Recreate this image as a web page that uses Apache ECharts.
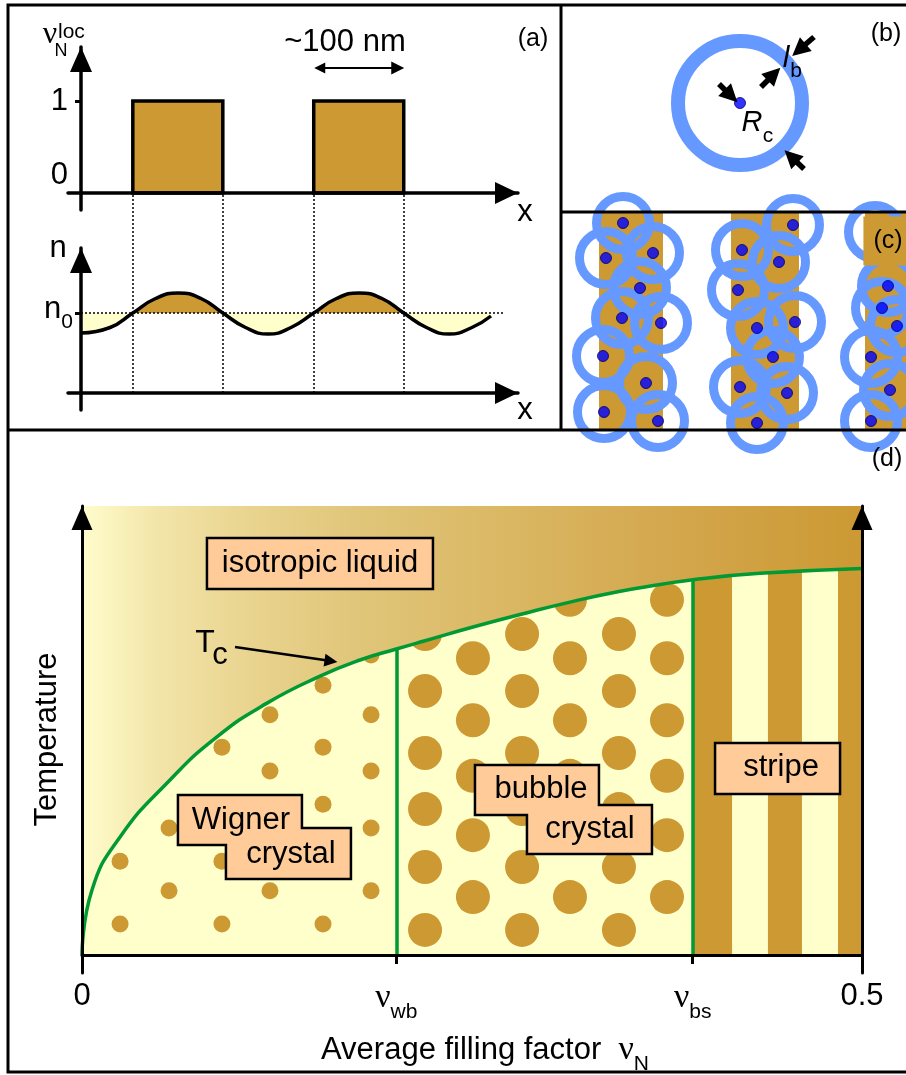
<!DOCTYPE html>
<html><head><meta charset="utf-8">
<script src="https://cdn.jsdelivr.net/npm/echarts@6/dist/echarts.min.js"></script>
<style>html,body{margin:0;padding:0;background:#fff}#c{width:906px;height:1075px}</style>
</head><body><div id="c"></div>
<script>
// ================= DATA =================
// (a) top: local filling factor nu_N^loc(x) = 1 inside these intervals (x in nm)
const locStripesA = [[57, 156], [256, 355]];
const locLevelA = 1;
// (a) bottom: density n(x)
const densityX = [0, 32, 57, 82, 107, 132, 156, 181, 206, 231, 256, 281, 306, 331, 355, 380, 405, 430, 451];
const densityN = [0.60, 0.655, 0.80, 0.945, 1.0, 0.945, 0.80, 0.655, 0.59, 0.655, 0.80, 0.945, 1.0, 0.945, 0.80, 0.655, 0.59, 0.655, 0.77];
const densityN0 = 0.8;
const periodArrowA = [262.6, 348.4];   // "~100 nm" double arrow (x, nm)
const periodArrowY = 1.36;
// (b) one bubble: centre and ring (arbitrary length units)
const bubbleCentreB = [178, 98];
const ringDiameterB = 124;
const arrowsB = [
  [[157, 79], [169, 91]],
  [[199, 82], [212, 69]],
  [[252, 32], [237, 45]],
  [[242, 164], [229, 151.5]]
];
// (c) stripes and bubble (guiding-centre) positions
const stripesC = [[38, 102], [170, 238], [304, 345]];
const centresC = [
  [62, 11], [92, 41], [45, 46], [79, 76], [61, 106], [100, 111], [42, 144], [85, 171], [43, 200], [97, 209],
  [232, 13], [181, 38], [218, 50], [177, 78], [234, 110], [196, 116], [212, 145], [179, 175], [226, 181], [196, 211],
  [314, 20], [327, 74], [321, 96], [336, 114], [310, 145], [329, 178], [310, 209]
];
// (d) phase diagram
const nuWB = 0.2015, nuBS = 0.3915;
const tcNu = [0, 0.0064, 0.0244, 0.0564, 0.0865, 0.1186, 0.1526, 0.1782, 0.2015, 0.2199, 0.2506, 0.2821, 0.3128, 0.3442, 0.3705, 0.3915, 0.4346, 0.5];
const tcT  = [0, 0.145, 0.263, 0.390, 0.486, 0.561, 0.621, 0.657, 0.6815, 0.700, 0.7305, 0.7595, 0.786, 0.8095, 0.825, 0.836, 0.850, 0.861];
const wignerDots = [
  [0.0244, 0.209], [0.0244, 0.069],
  [0.0558, 0.283], [0.0558, 0.143],
  [0.0897, 0.463], [0.0897, 0.336], [0.0897, 0.209], [0.0897, 0.069],
  [0.1205, 0.535], [0.1205, 0.410], [0.1205, 0.283], [0.1205, 0.143],
  [0.1545, 0.601], [0.1545, 0.463], [0.1545, 0.336], [0.1545, 0.209], [0.1545, 0.069],
  [0.1853, 0.668], [0.1853, 0.535], [0.1853, 0.410], [0.1853, 0.283], [0.1853, 0.143]
];
const bubbleDots = [
  [0.2199, 0.715], [0.2199, 0.588], [0.2199, 0.450], [0.2199, 0.325], [0.2199, 0.196], [0.2199, 0.056],
  [0.2506, 0.661], [0.2506, 0.523], [0.2506, 0.399], [0.2506, 0.267], [0.2506, 0.129],
  [0.2821, 0.715], [0.2821, 0.588], [0.2821, 0.450], [0.2821, 0.325], [0.2821, 0.196], [0.2821, 0.056],
  [0.3128, 0.791], [0.3128, 0.661], [0.3128, 0.523], [0.3128, 0.399], [0.3128, 0.267], [0.3128, 0.129],
  [0.3442, 0.715], [0.3442, 0.588], [0.3442, 0.450], [0.3442, 0.325], [0.3442, 0.196], [0.3442, 0.056],
  [0.375, 0.791], [0.375, 0.661], [0.375, 0.523], [0.375, 0.399], [0.375, 0.267], [0.375, 0.129]
];
const stripesD = [[0.3915, 0.4167], [0.4397, 0.4615], [0.4846, 0.5]];
const xTickValuesD = [0, nuWB, nuBS, 0.5];
const xTickLabelsD = ['0', '{v|ν}{s|wb}', '{v|ν}{s|bs}', '0.5'];
const tcArrowD = [[0.0981, 0.686], [0.1596, 0.6548]];
// label anchors in (d): [nu, T, labelIndex]
const labelAnchorsD = [[0.0801, 0.9287, 0], [0.0615, 0.3563, 1], [0.2519, 0.4232, 2], [0.4058, 0.4722, 3]];

// ================= STYLE =================
const BROWN = '#cc9933', LY = '#ffffcc', GREEN = '#009933', PEACH = '#ffcc99', RING = '#6699ff', DOTC = '#0000ff';
const SANS = 'Liberation Sans', SERIF = 'Liberation Serif';
const labelShapes = [
  {poly: [[0,0],[226,0],[226,51],[0,51]], texts: [['isotropic liquid', 113, 25]]},
  {poly: [[0,0],[124,0],[124,33],[173,33],[173,84],[48,84],[48,50],[0,50]], texts: [['Wigner', 63, 25], ['crystal', 113, 59]]},
  {poly: [[0,0],[124,0],[124,40],[177,40],[177,89],[52,89],[52,50],[0,50]], texts: [['bubble', 66, 24], ['crystal', 115, 64]]},
  {poly: [[0,0],[125,0],[125,51],[0,51]], texts: [['stripe', 66, 24]]}
];

const pairs = (xs, ys) => xs.map((x, i) => [x, ys[i]]);
const densityPts = pairs(densityX, densityN);
const tcPts = pairs(tcNu, tcT);

function arrowAxisLine(width, size) {
  return {show: true, onZero: true, symbol: ['none', 'triangle'], symbolSize: size,
          symbolOffset: [0, -size[1] / 2], lineStyle: {color: '#000', width: width}};
}
const noTick = {show: false}, noLabel = {show: false}, noSplit = {show: false};
function hiddenAxis(gi, min, max, inverse) {
  return {type: 'value', gridIndex: gi, min: min, max: max, inverse: !!inverse, show: false,
          axisLine: {show: false}, axisTick: noTick, axisLabel: noLabel, splitLine: noSplit};
}
function rectRender(y0, y1, style) {
  return function (params, api) {
    const p0 = api.coord([api.value(0), y0]);
    const p1 = api.coord([api.value(1), y1]);
    return {type: 'rect', shape: {x: Math.min(p0[0], p1[0]), y: Math.min(p0[1], p1[1]),
            width: Math.abs(p1[0] - p0[0]), height: Math.abs(p1[1] - p0[1])}, style: style};
  };
}
const subRich = {
  v: {fontFamily: SERIF, fontSize: 34, padding: [0, 0, 8, 0], color: '#000'},
  s: {fontFamily: SANS, fontSize: 21, verticalAlign: 'bottom', color: '#000'},
  t: {fontFamily: SANS, fontSize: 31, padding: [0, 0, 8, 26], color: '#000'}
};
function G(o) { return Object.assign({containLabel: false, outerBoundsMode: 'none'}, o); }

const chart = echarts.init(document.getElementById('c'), null, {width: 906, height: 1075});

const option = {
  animation: false,
  backgroundColor: '#fff',
  grid: [
    G({left: 68, top: 47, width: 450, height: 163}),   // 0 (a) top
    G({left: 68, top: 248, width: 450, height: 162}),  // 1 (a) bottom
    G({left: 68, top: 248, width: 450, height: 65}),   // 2 (a) bottom, above n0
    G({left: 68, top: 313, width: 450, height: 80}),   // 3 (a) bottom, below n0
    G({left: 562, top: 5, width: 344, height: 207}),   // 4 (b)
    G({left: 561, top: 212, width: 345, height: 218}), // 5 (c)
    G({left: 82, top: 506, width: 780, height: 467})   // 6 (d)
  ],
  xAxis: [
    {type: 'value', gridIndex: 0, min: -14.3, max: 480.7, axisLine: arrowAxisLine(3.5, [22, 23]),
     axisTick: noTick, axisLabel: noLabel, splitLine: noSplit, z: 10},
    {type: 'value', gridIndex: 1, min: -14.3, max: 480.7, axisLine: arrowAxisLine(3.5, [22, 23]),
     axisTick: noTick, axisLabel: noLabel, splitLine: noSplit, z: 10},
    hiddenAxis(2, -14.3, 480.7),
    hiddenAxis(3, -14.3, 480.7),
    hiddenAxis(4, 0, 344),
    hiddenAxis(5, 0, 345),
    {type: 'value', gridIndex: 6, min: 0, max: 0.5,
     axisLine: {show: true, onZero: true, lineStyle: {color: '#000', width: 3}},
     axisTick: {show: true, customValues: [nuWB, nuBS], length: 9, lineStyle: {color: '#000', width: 3}},
     axisLabel: {show: true, customValues: xTickValuesD, margin: 8, fontFamily: SANS, fontSize: 31, color: '#000',
                 formatter: function (v) {
                   let best = 0;
                   xTickValuesD.forEach((t, i) => { if (Math.abs(t - v) < Math.abs(xTickValuesD[best] - v)) best = i; });
                   return xTickLabelsD[best];
                 }, rich: subRich},
     splitLine: noSplit, z: 10,
     name: '{t|Average filling factor  }{v|ν}{s|N}', nameLocation: 'middle', nameGap: 60,
     nameTextStyle: {rich: subRich}}
  ],
  yAxis: [
    {type: 'value', gridIndex: 0, min: -0.185, max: 1.587, axisLine: arrowAxisLine(3.5, [22, 25]),
     axisTick: {show: true, customValues: [1], length: 6, lineStyle: {color: '#000', width: 3}},
     axisLabel: {show: true, customValues: [0, 1], margin: 0, color: '#000', fontFamily: SANS, fontSize: 31,
                 formatter: v => (Math.abs(v) < 1e-9 ? '{z|0}' : '1'),
                 rich: {z: {fontFamily: SANS, fontSize: 31, padding: [0, 0, 36, 0], color: '#000'}}},
     splitLine: noSplit, z: 10},
    {type: 'value', gridIndex: 1, min: -0.17, max: 1.45, axisLine: arrowAxisLine(3.5, [22, 25]),
     axisTick: {show: true, customValues: [densityN0], length: 6, lineStyle: {color: '#000', width: 3}},
     axisLabel: {show: true, customValues: [densityN0], margin: -5, color: '#000',
                 formatter: () => '{n|n}{s|0}',
                 rich: {n: {fontFamily: SANS, fontSize: 31, padding: [0, 0, 8, 0], color: '#000'},
                        s: {fontFamily: SANS, fontSize: 21, verticalAlign: 'bottom', color: '#000'}}},
     splitLine: noSplit, z: 10},
    hiddenAxis(2, densityN0, 1.45),
    hiddenAxis(3, 0, densityN0),
    hiddenAxis(4, 0, 207, true),
    hiddenAxis(5, 0, 218, true),
    {type: 'value', gridIndex: 6, min: -0.04, max: 1, axisLine: arrowAxisLine(3, [21, 24]),
     axisTick: noTick, axisLabel: noLabel, splitLine: noSplit, z: 10,
     name: 'Temperature', nameLocation: 'middle', nameRotate: 90, nameGap: 19,
     nameTextStyle: {fontFamily: SANS, fontSize: 31, color: '#000'}},
    {type: 'value', gridIndex: 6, min: -0.04, max: 1, position: 'right',
     axisLine: Object.assign(arrowAxisLine(3, [21, 24]), {onZero: false}),
     axisTick: noTick, axisLabel: noLabel, splitLine: noSplit, z: 10}
  ],
  series: [
    // ---------- (a) top ----------
    {type: 'custom', xAxisIndex: 0, yAxisIndex: 0, data: locStripesA, z: 2,
     renderItem: rectRender(0, locLevelA, {fill: BROWN, stroke: '#000', lineWidth: 3.5})},
    {type: 'lines', coordinateSystem: 'cartesian2d', xAxisIndex: 0, yAxisIndex: 0, z: 3, symbol: ['triangle', 'triangle'],
     symbolSize: [11, 13], lineStyle: {color: '#000', width: 2, opacity: 1},
     data: [{coords: [[periodArrowA[0], periodArrowY], [periodArrowA[1], periodArrowY]]}]},
    // ---------- (a) bottom ----------
    {type: 'line', xAxisIndex: 2, yAxisIndex: 2, data: densityPts, smooth: 0.5, symbol: 'none', z: 1,
     lineStyle: {width: 0.01, opacity: 0}, areaStyle: {color: BROWN, opacity: 1, origin: 'start'}},
    {type: 'line', xAxisIndex: 3, yAxisIndex: 3, data: densityPts, smooth: 0.5, symbol: 'none', z: 1,
     lineStyle: {width: 0.01, opacity: 0}, areaStyle: {color: LY, opacity: 1, origin: 'end'}},
    {type: 'line', xAxisIndex: 1, yAxisIndex: 1, data: [[0, densityN0], [465, densityN0]], symbol: 'none', z: 2,
     lineStyle: {color: '#000', width: 1.5, type: [2, 2]}},
    {type: 'lines', coordinateSystem: 'cartesian2d', xAxisIndex: 1, yAxisIndex: 1, z: 2, clip: false,
     lineStyle: {color: '#000', width: 1.5, type: [2, 2], opacity: 1},
     data: [].concat(...locStripesA.map(s => s.map(x => ({coords: [[x, 0], [x, 2.0]]}))))},
    {type: 'line', xAxisIndex: 1, yAxisIndex: 1, data: densityPts, smooth: 0.5, symbol: 'none', z: 3,
     lineStyle: {color: '#000', width: 3.5}},
    // ---------- (b) ----------
    {type: 'scatter', xAxisIndex: 4, yAxisIndex: 4, data: [bubbleCentreB], symbol: 'circle', symbolSize: ringDiameterB, z: 2,
     itemStyle: {color: 'rgba(0,0,0,0)', borderColor: RING, borderWidth: 14, opacity: 1}},
    {type: 'scatter', xAxisIndex: 4, yAxisIndex: 4, data: [bubbleCentreB], symbol: 'circle', symbolSize: 11, z: 3,
     itemStyle: {color: DOTC, borderColor: '#000066', borderWidth: 1}},
    {type: 'lines', coordinateSystem: 'cartesian2d', xAxisIndex: 4, yAxisIndex: 4, z: 4,
     symbol: ['none', 'triangle'], symbolSize: [19, 18], lineStyle: {color: '#000', width: 5.5, opacity: 1},
     data: arrowsB.map(a => ({coords: a}))},
    // ---------- (c) ----------
    {type: 'custom', xAxisIndex: 5, yAxisIndex: 5, data: stripesC, z: 1,
     renderItem: rectRender(0, 218, {fill: BROWN})},
    {type: 'scatter', xAxisIndex: 5, yAxisIndex: 5, data: centresC, symbol: 'circle', symbolSize: 53, z: 2,
     itemStyle: {color: 'rgba(0,0,0,0)', borderColor: RING, borderWidth: 9, opacity: 1}},
    {type: 'scatter', xAxisIndex: 5, yAxisIndex: 5, data: centresC, symbol: 'circle', symbolSize: 11, z: 3,
     itemStyle: {color: DOTC, borderColor: '#000066', borderWidth: 1}},
    // ---------- (d) ----------
    {type: 'line', xAxisIndex: 6, yAxisIndex: 6, data: tcPts, smooth: 0.5, symbol: 'none', z: 1,
     lineStyle: {width: 0.01, opacity: 0}, areaStyle: {color: LY, opacity: 1, origin: 0}},
    {type: 'custom', xAxisIndex: 6, yAxisIndex: 6, data: stripesD, z: 2,
     renderItem: rectRender(0, 1, {fill: BROWN})},
    {type: 'scatter', xAxisIndex: 6, yAxisIndex: 6, data: wignerDots, symbol: 'circle', symbolSize: 17, z: 2,
     itemStyle: {color: BROWN, opacity: 1}},
    {type: 'scatter', xAxisIndex: 6, yAxisIndex: 6, data: bubbleDots, symbol: 'circle', symbolSize: 34, z: 2,
     itemStyle: {color: BROWN, opacity: 1}},
    {type: 'line', xAxisIndex: 6, yAxisIndex: 6, data: tcPts, smooth: 0.5, symbol: 'none', z: 3,
     lineStyle: {color: GREEN, width: 3.5},
     areaStyle: {origin: 'end', opacity: 1, color: new echarts.graphic.LinearGradient(0, 0, 1, 0, [
       {offset: 0, color: '#fffdcc'}, {offset: 0.1, color: '#f2e4a8'}, {offset: 0.23, color: '#e8d28c'},
       {offset: 0.35, color: '#e0c67a'}, {offset: 0.55, color: '#dab763'}, {offset: 0.74, color: '#d4a84f'},
       {offset: 1, color: '#cc9933'}])}},
    {type: 'lines', coordinateSystem: 'cartesian2d', xAxisIndex: 6, yAxisIndex: 6, z: 3,
     lineStyle: {color: GREEN, width: 3.5, opacity: 1},
     data: [{coords: [[nuWB, 0], [nuWB, tcT[tcNu.indexOf(nuWB)]]]}, {coords: [[nuBS, 0], [nuBS, tcT[tcNu.indexOf(nuBS)]]]}]},
    {type: 'lines', coordinateSystem: 'cartesian2d', xAxisIndex: 6, yAxisIndex: 6, z: 4,
     symbol: ['none', 'triangle'], symbolSize: [9, 13], lineStyle: {color: '#000', width: 2.5, opacity: 1},
     data: [{coords: tcArrowD}]},
    {type: 'custom', xAxisIndex: 6, yAxisIndex: 6, data: labelAnchorsD, z: 5,
     renderItem: function (params, api) {
       const p = api.coord([api.value(0), api.value(1)]);
       const L = labelShapes[api.value(2)];
       const children = [{type: 'polygon', shape: {points: L.poly.map(q => [p[0] + q[0], p[1] + q[1]])},
                          style: {fill: PEACH, stroke: '#000', lineWidth: 2.5}}];
       L.texts.forEach(t => children.push({type: 'text', x: p[0] + t[1], y: p[1] + t[2],
         style: {text: t[0], fill: '#000', fontFamily: SANS, fontSize: 31, align: 'center', verticalAlign: 'middle',
                 textAlign: 'center', textVerticalAlign: 'middle'}}));
       return {type: 'group', children: children};
     }}
  ],
  graphic: [
    // frame and panel dividers
    {type: 'rect', z: 100, shape: {x: 8, y: 5, width: 902, height: 1067}, style: {fill: 'none', stroke: '#000', lineWidth: 3}},
    {type: 'line', z: 100, shape: {x1: 561, y1: 5, x2: 561, y2: 430}, style: {stroke: '#000', lineWidth: 3}},
    {type: 'line', z: 100, shape: {x1: 561, y1: 212, x2: 906, y2: 212}, style: {stroke: '#000', lineWidth: 3}},
    {type: 'line', z: 100, shape: {x1: 8, y1: 430, x2: 906, y2: 430}, style: {stroke: '#000', lineWidth: 3}},
    // panel letters
    {type: 'text', z: 100, x: 533, y: 39, style: {text: '(a)', fontFamily: SANS, fontSize: 25, fill: '#000', align: 'center', verticalAlign: 'middle'}},
    {type: 'text', z: 100, x: 886, y: 34, style: {text: '(b)', fontFamily: SANS, fontSize: 25, fill: '#000', align: 'center', verticalAlign: 'middle'}},
    {type: 'text', z: 100, x: 888, y: 241, style: {text: '(c)', fontFamily: SANS, fontSize: 25, fill: '#000', align: 'center', verticalAlign: 'middle',
      backgroundColor: BROWN, padding: [12, 10, 12, 10]}},
    {type: 'text', z: 100, x: 887, y: 459, style: {text: '(d)', fontFamily: SANS, fontSize: 25, fill: '#000', align: 'center', verticalAlign: 'middle'}},
    // (a) texts
    {type: 'text', z: 100, x: 345, y: 42, style: {text: '~100 nm', fontFamily: SANS, fontSize: 31, fill: '#000', align: 'center', verticalAlign: 'middle'}},
    {type: 'text', z: 100, x: 50, y: 35, style: {text: 'ν', fontFamily: SERIF, fontSize: 32, fill: '#000', align: 'center', verticalAlign: 'middle'}},
    {type: 'text', z: 100, x: 58, y: 32, style: {text: 'loc', fontFamily: SANS, fontSize: 21, fill: '#000', align: 'left', verticalAlign: 'middle'}},
    {type: 'text', z: 100, x: 61, y: 51, style: {text: 'N', fontFamily: SANS, fontSize: 18, fill: '#000', align: 'center', verticalAlign: 'middle'}},
    {type: 'text', z: 100, x: 58, y: 248, style: {text: 'n', fontFamily: SANS, fontSize: 31, fill: '#000', align: 'center', verticalAlign: 'middle'}},
    {type: 'text', z: 100, x: 525, y: 212, style: {text: 'x', fontFamily: SANS, fontSize: 31, fill: '#000', align: 'center', verticalAlign: 'middle'}},
    {type: 'text', z: 100, x: 525, y: 410, style: {text: 'x', fontFamily: SANS, fontSize: 31, fill: '#000', align: 'center', verticalAlign: 'middle'}},
    // (b) texts
    {type: 'text', z: 100, x: 786, y: 59, style: {text: 'l', fontFamily: SANS, fontStyle: 'italic', fontSize: 30, fill: '#000', align: 'center', verticalAlign: 'middle'}},
    {type: 'text', z: 100, x: 796, y: 71, style: {text: 'b', fontFamily: SANS, fontSize: 21, fill: '#000', align: 'center', verticalAlign: 'middle'}},
    {type: 'text', z: 100, x: 752, y: 123, style: {text: 'R', fontFamily: SANS, fontStyle: 'italic', fontSize: 29, fill: '#000', align: 'center', verticalAlign: 'middle'}},
    {type: 'text', z: 100, x: 768, y: 136, style: {text: 'c', fontFamily: SANS, fontSize: 21, fill: '#000', align: 'center', verticalAlign: 'middle'}},
    // (d) Tc
    {type: 'text', z: 100, x: 205, y: 643, style: {text: 'T', fontFamily: SANS, fontSize: 32, fill: '#000', align: 'center', verticalAlign: 'middle'}},
    {type: 'text', z: 100, x: 220, y: 655, style: {text: 'c', fontFamily: SANS, fontSize: 31, fill: '#000', align: 'center', verticalAlign: 'middle'}}
  ]
};
chart.setOption(option);
</script>
</body></html>
